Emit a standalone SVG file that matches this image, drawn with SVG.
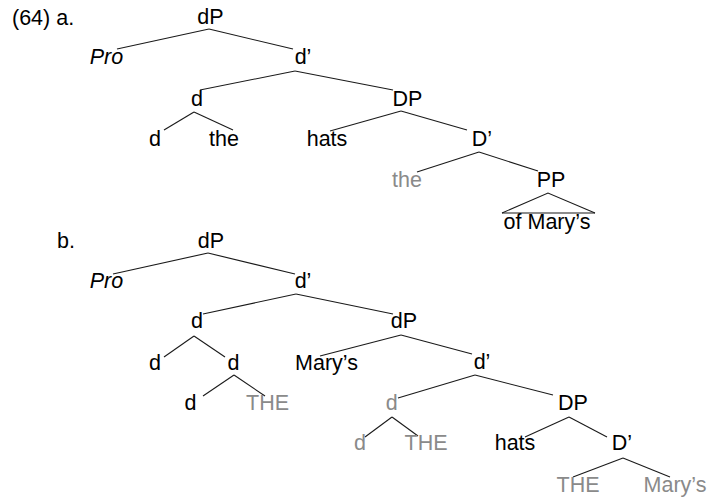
<svg xmlns="http://www.w3.org/2000/svg" width="708" height="497" viewBox="0 0 708 497">
<style>
text{font-family:"Liberation Sans",Arial,sans-serif;font-size:21.5px;fill:#000;text-anchor:middle}
.g{fill:#8a8a8a}
.i{font-style:italic}
.lbl{text-anchor:start}
#edges line,#edges polyline{stroke:#1a1a1a;stroke-width:1.1;fill:none}
</style>
<rect width="708" height="497" fill="#fff"/>
<text class="lbl" x="12" y="25">(64) a.</text>
<text class="lbl" x="57" y="248">b.</text>
<g id="edges">
<line x1="209" y1="29" x2="117" y2="49"/>
<line x1="209" y1="29" x2="293" y2="49"/>
<line x1="295" y1="71" x2="200" y2="90"/>
<line x1="295" y1="71" x2="393" y2="90"/>
<line x1="194" y1="112" x2="164" y2="130"/>
<line x1="194" y1="112" x2="233" y2="130"/>
<line x1="401" y1="111" x2="330" y2="131"/>
<line x1="401" y1="111" x2="467" y2="130"/>
<line x1="479" y1="152" x2="417" y2="172"/>
<line x1="479" y1="152" x2="538" y2="171"/>
<polyline points="502,213 548,193 595,213"/>
<line x1="502" y1="213" x2="595" y2="213"/>
<line x1="208" y1="253" x2="113" y2="274"/>
<line x1="208" y1="253" x2="295" y2="274"/>
<line x1="296" y1="294" x2="203" y2="314"/>
<line x1="296" y1="294" x2="393" y2="314"/>
<line x1="194" y1="336" x2="164" y2="357"/>
<line x1="194" y1="336" x2="225" y2="357"/>
<line x1="401" y1="335" x2="320" y2="356"/>
<line x1="401" y1="335" x2="472" y2="354"/>
<line x1="234" y1="375" x2="203" y2="396"/>
<line x1="234" y1="375" x2="265" y2="396"/>
<line x1="475" y1="375" x2="398" y2="398"/>
<line x1="475" y1="375" x2="553" y2="395"/>
<line x1="392" y1="417" x2="365" y2="437"/>
<line x1="392" y1="417" x2="418" y2="436"/>
<line x1="569" y1="417" x2="525" y2="437"/>
<line x1="569" y1="417" x2="607" y2="437"/>
<line x1="623" y1="458" x2="573" y2="477"/>
<line x1="623" y1="458" x2="670" y2="477"/>
</g>
<g id="a-dP"><text x="210.5" y="24">dP</text></g>
<g id="a-Pro"><text class="i" x="106.5" y="64">Pro</text></g>
<g id="a-d1"><text x="303" y="64">d’</text></g>
<g id="a-d"><text x="197" y="106">d</text></g>
<g id="a-DP"><text x="407.5" y="106">DP</text></g>
<g id="a-dleaf"><text x="155" y="146">d</text></g>
<g id="a-the"><text x="224" y="146">the</text></g>
<g id="a-hats"><text x="327" y="146">hats</text></g>
<g id="a-D1"><text x="482" y="146">D’</text></g>
<g id="a-the2"><text class="g" x="407" y="187">the</text></g>
<g id="a-PP"><text x="551" y="187">PP</text></g>
<g id="a-ofmarys"><text x="547" y="229">of Mary’s</text></g>
<g id="b-dP"><text x="211" y="248">dP</text></g>
<g id="b-Pro"><text class="i" x="106.5" y="288">Pro</text></g>
<g id="b-d1"><text x="303" y="288">d’</text></g>
<g id="b-d"><text x="197" y="328">d</text></g>
<g id="b-dP2"><text x="404" y="328">dP</text></g>
<g id="b-d-a"><text x="155" y="370">d</text></g>
<g id="b-d-b"><text x="233.5" y="370">d</text></g>
<g id="b-marys"><text x="326.5" y="370">Mary’s</text></g>
<g id="b-d1-2"><text x="482" y="369">d’</text></g>
<g id="b-d-c"><text x="190.5" y="410">d</text></g>
<g id="b-THE"><text class="g" x="267.5" y="410">THE</text></g>
<g id="b-dg"><text class="g" x="391.7" y="410">d</text></g>
<g id="b-DP"><text x="573" y="410">DP</text></g>
<g id="b-dg2"><text class="g" x="360" y="450">d</text></g>
<g id="b-THE2"><text class="g" x="426" y="450">THE</text></g>
<g id="b-hats"><text x="515" y="450">hats</text></g>
<g id="b-D1"><text x="622" y="450">D’</text></g>
<g id="b-THE3"><text class="g" x="578" y="492">THE</text></g>
<g id="b-marys2"><text class="g" x="675" y="492">Mary’s</text></g>
</svg>
